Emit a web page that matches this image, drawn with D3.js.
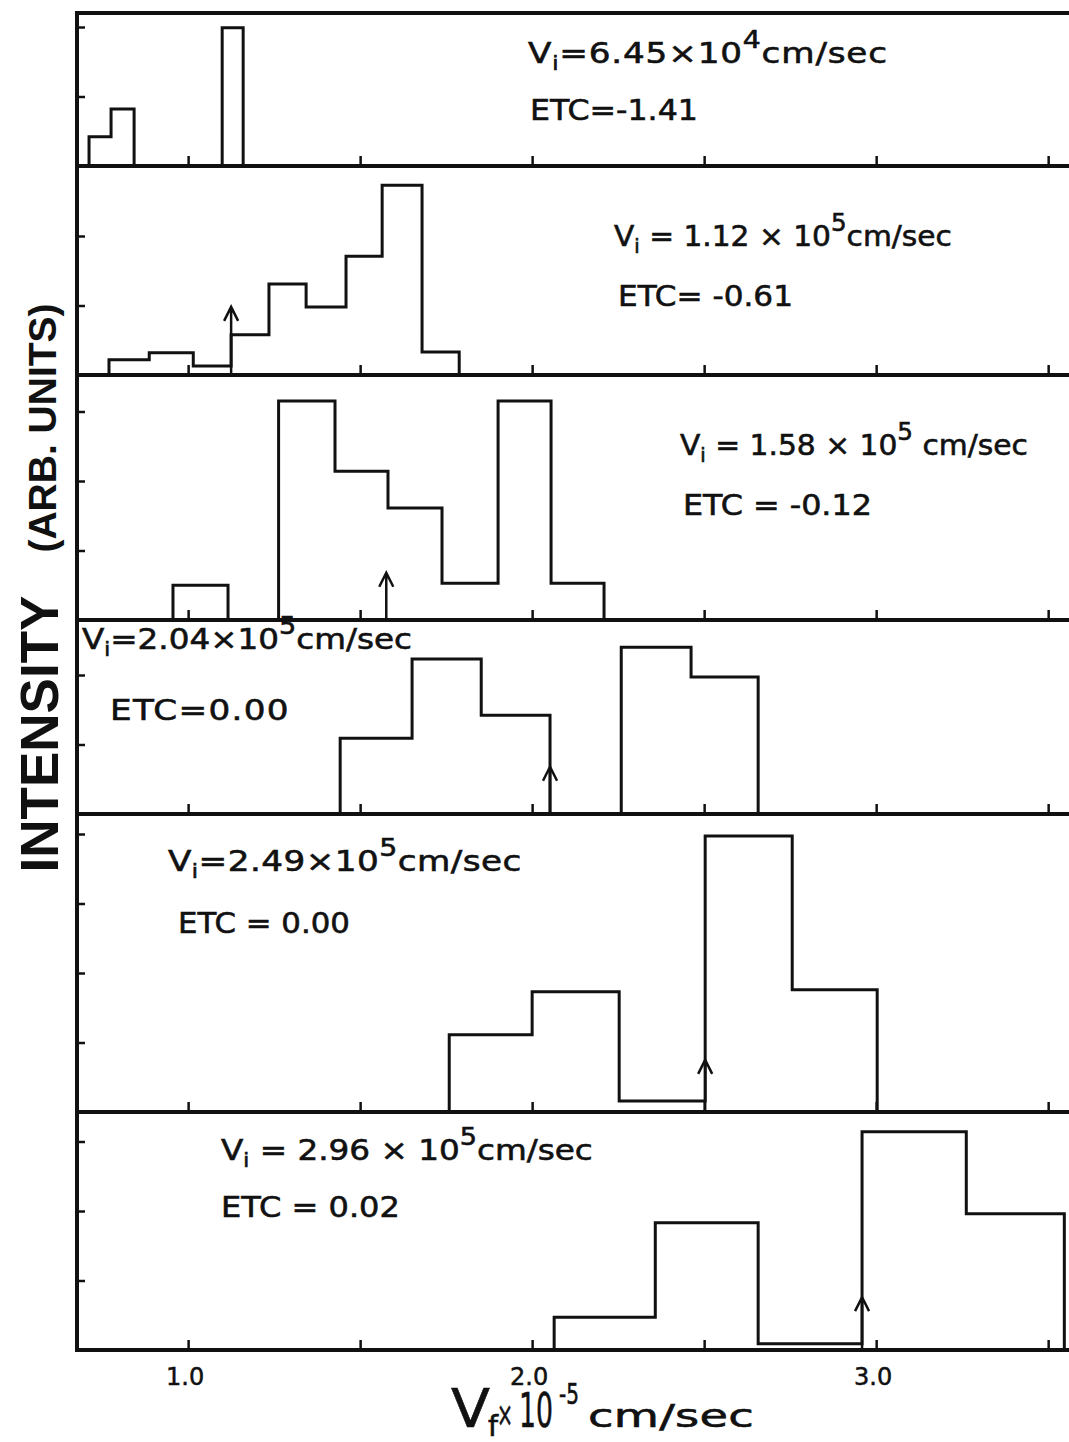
<!DOCTYPE html>
<html>
<head>
<meta charset="utf-8">
<script src="https://cdn.jsdelivr.net/npm/d3@7"></script>
<style>
  body { margin: 0; background: #fff; }
  svg { display: block; background: #fff; }
  text { fill: #111; }
</style>
</head>
<body>
<div id="chart"></div>
<script>
// Histogram data (x in units of 10^5 cm/sec, height in tick units)
var p1Edges = [0.712, 0.776, 0.843, 1.099, 1.160];
var p1Counts = [0.42, 0.82, 0, 1.99];
var p2Edges = [0.770, 0.887, 1.015, 1.125, 1.235, 1.343, 1.459, 1.564, 1.680, 1.788];
var p2Counts = [0.22, 0.32, 0.13, 0.58, 1.31, 0.98, 1.71, 2.73, 0.33];
var p3Edges = [0.956, 1.116, 1.263, 1.427, 1.581, 1.738, 1.901, 2.055, 2.209];
var p3Counts = [0.50, 0, 3.15, 2.14, 1.61, 0.53, 3.15, 0.53];
var p4Edges = [1.442, 1.651, 1.852, 2.052, 2.259, 2.462, 2.657];
var p4Counts = [1.09, 2.23, 1.42, 0, 2.40, 1.97];
var p5Edges = [1.759, 2.000, 2.253, 2.503, 2.756, 3.003];
var p5Counts = [1.11, 1.73, 0.16, 3.97, 1.76];
var p6Edges = [2.064, 2.358, 2.657, 2.959, 3.262, 3.547];
var p6Counts = [0.47, 1.83, 0.09, 3.14, 1.96];

// arrow = incident velocity marker (null when off scale), tip height in tick units
var arrowX = [null, 1.125, 1.576, 2.052, 2.503, 2.959];
var arrowTip = [null, 0.98, 0.68, 0.68, 0.75, 0.76];

// panel annotations
var viMid = ["=6.45×10", " = 1.12 × 10", " = 1.58 × 10", "=2.04×10", "=2.49×10", " = 2.96 × 10"];
var viExp = ["4", "5", "5", "5", "5", "5"];
var viUnit = ["cm/sec", "cm/sec", " cm/sec", "cm/sec", "cm/sec", "cm/sec"];
var etcText = ["ETC=-1.41", "ETC= -0.61", "ETC = -0.12", "ETC=0.00", "ETC = 0.00", "ETC = 0.02"];

var xTicks = [1.0, 1.5, 2.0, 2.5, 3.0, 3.5];
var xTickLabels = ["1.0", "2.0", "3.0"];

// Setup chart dimensions
var svgWidth = 1069;
var svgHeight = 1442;
var frameLeft = 77, frameRight = 1075;
var panelBottoms = [166, 375, 620, 814, 1112, 1350];
var frameTop = 13;
var pxPerUnit = 69.5;

// text placement per panel: [x, baseline, width] for Vi line and ETC line
var viPos = [[528, 63, 360], [614, 246, 338], [680, 455, 348], [82, 649, 330], [168, 871, 354], [221, 1160, 372]];
var etcPos = [[530, 120, 168], [618, 306, 175], [683, 515, 189], [110, 720, 180], [178, 933, 172], [221, 1217, 179]];

var font = "'DejaVu Sans', 'Noto Sans', sans-serif";

var svg = d3.select("#chart").append("svg")
  .attr("width", svgWidth)
  .attr("height", svgHeight);

var xScale = d3.scaleLinear()
  .domain([0.677, 3.578])
  .range([frameLeft, frameRight]);

// widen a text to the given width: stretch glyphs up to maxK, then spread letters
function fitText(sel, x0, width, maxK) {
  var node = sel.node();
  var w = node.getComputedTextLength();
  var n = node.getNumberOfChars();
  var k = Math.min(width / w, maxK);
  var ls = (width / k - w) / n;
  sel.attr("letter-spacing", ls)
    .attr("transform", "translate(" + x0 + ",0) scale(" + k + ",1) translate(" + (-x0) + ",0)");
}

var panels = [
  {edges: p1Edges, counts: p1Counts},
  {edges: p2Edges, counts: p2Counts},
  {edges: p3Edges, counts: p3Counts},
  {edges: p4Edges, counts: p4Counts},
  {edges: p5Edges, counts: p5Counts},
  {edges: p6Edges, counts: p6Counts}
];

panels.forEach(function(p, i) {
  var top = i === 0 ? frameTop : panelBottoms[i - 1];
  var bottom = panelBottoms[i];
  var yScale = d3.scaleLinear()
    .domain([0, (bottom - top) / pxPerUnit])
    .range([bottom, top]);

  var g = svg.append("g").attr("class", "panel");

  // step outline of the histogram
  var pts = [[p.edges[0], 0]];
  p.counts.forEach(function(c, k) {
    pts.push([p.edges[k], c]);
    pts.push([p.edges[k + 1], c]);
  });
  pts.push([p.edges[p.edges.length - 1], 0]);
  var line = d3.line()
    .x(function(d) { return xScale(d[0]); })
    .y(function(d) { return yScale(d[1]); });
  g.append("path")
    .attr("d", line(pts))
    .attr("fill", "none")
    .attr("stroke", "#111")
    .attr("stroke-width", 3);

  // x ticks pointing up from each baseline
  var bottomAxis = d3.axisTop(xScale).tickValues(xTicks).tickSize(10).tickFormat("");
  var xa = g.append("g").attr("transform", "translate(0," + bottom + ")").call(bottomAxis);
  xa.select(".domain").remove();
  xa.selectAll("line").attr("stroke", "#111").attr("stroke-width", 2.5);

  // y ticks pointing right from the left frame
  var yTicks = d3.range(1, Math.floor(yScale.domain()[1] - 0.05) + 1);
  var leftAxis = d3.axisRight(yScale).tickValues(yTicks).tickSize(8).tickFormat("");
  var ya = g.append("g").attr("transform", "translate(" + frameLeft + ",0)").call(leftAxis);
  ya.select(".domain").remove();
  ya.selectAll("line").attr("stroke", "#111").attr("stroke-width", 2.5);

  // baseline / separator
  g.append("line")
    .attr("x1", frameLeft).attr("x2", frameRight)
    .attr("y1", bottom).attr("y2", bottom)
    .attr("stroke", "#111").attr("stroke-width", 4);

  // incident velocity arrow
  if (arrowX[i] !== null) {
    var ax = xScale(arrowX[i]);
    var ay = yScale(arrowTip[i]);
    g.append("path")
      .attr("d", "M" + ax + "," + bottom + "V" + ay + "M" + (ax - 7) + "," + (ay + 14) + "L" + ax + "," + ay + "L" + (ax + 7) + "," + (ay + 14))
      .attr("fill", "none")
      .attr("stroke", "#111")
      .attr("stroke-width", 2.5);
  }

  // annotations
  var t = g.append("text")
    .attr("x", viPos[i][0]).attr("y", viPos[i][1])
    .attr("font-family", font).attr("font-size", 29)
    .attr("stroke", "#111").attr("stroke-width", 0.6);
  t.append("tspan").text("V");
  t.append("tspan").attr("dy", 7).attr("font-size", 19).text("i");
  t.append("tspan").attr("dy", -7).text(viMid[i]);
  t.append("tspan").attr("dy", -15).attr("font-size", 24).text(viExp[i]);
  t.append("tspan").attr("dy", 15).text(viUnit[i]);
  fitText(t, viPos[i][0], viPos[i][2], 1.18);

  var e = g.append("text")
    .attr("x", etcPos[i][0]).attr("y", etcPos[i][1])
    .attr("font-family", font).attr("font-size", 29)
    .attr("stroke", "#111").attr("stroke-width", 0.6)
    .text(etcText[i]);
  fitText(e, etcPos[i][0], etcPos[i][2], 1.18);
});

// outer frame: top and left
svg.append("line")
  .attr("x1", frameLeft).attr("x2", frameRight)
  .attr("y1", frameTop).attr("y2", frameTop)
  .attr("stroke", "#111").attr("stroke-width", 4);
svg.append("line")
  .attr("x1", frameLeft).attr("x2", frameLeft)
  .attr("y1", frameTop - 2).attr("y2", panelBottoms[5] + 2)
  .attr("stroke", "#111").attr("stroke-width", 4);

// x tick labels
svg.selectAll(".xlab")
  .data(xTickLabels)
  .enter().append("text")
  .attr("class", "xlab")
  .attr("x", function(d) { return xScale(+d) - 3; })
  .attr("y", 1385)
  .attr("text-anchor", "middle")
  .attr("font-family", font).attr("font-size", 24)
  .attr("stroke", "#111").attr("stroke-width", 0.5)
  .text(function(d) { return d; });

// x axis title, piece by piece
var titleParts = [
  {s: "V", x: 451, y: 1427, size: 54, w: 39},
  {s: "f", x: 488, y: 1436, size: 28, w: 10},
  {s: "×", x: 497, y: 1426, size: 34, w: 16},
  {s: "10", x: 519, y: 1427, size: 48, w: 34},
  {s: "-5", x: 559, y: 1404, size: 28, w: 20},
  {s: "cm/sec", x: 588, y: 1427, size: 32, w: 166}
];
titleParts.forEach(function(d) {
  var tt = svg.append("text")
    .attr("x", d.x).attr("y", d.y)
    .attr("font-family", font).attr("font-size", d.size)
    .attr("stroke", "#111").attr("stroke-width", 0.6)
    .text(d.s);
  fitText(tt, d.x, d.w, 1.45);
});

// y axis title
svg.append("text")
  .attr("transform", "translate(58,734) rotate(-90)")
  .attr("text-anchor", "middle")
  .attr("font-family", "'Liberation Sans', Arial, sans-serif")
  .attr("font-weight", "bold")
  .attr("font-size", 53)
  .text("INTENSITY");
svg.append("text")
  .attr("transform", "translate(56,428) rotate(-90)")
  .attr("text-anchor", "middle")
  .attr("font-family", "'Liberation Sans', Arial, sans-serif")
  .attr("font-weight", "bold")
  .attr("font-size", 39)
  .text("(ARB. UNITS)");
</script>
</body>
</html>
